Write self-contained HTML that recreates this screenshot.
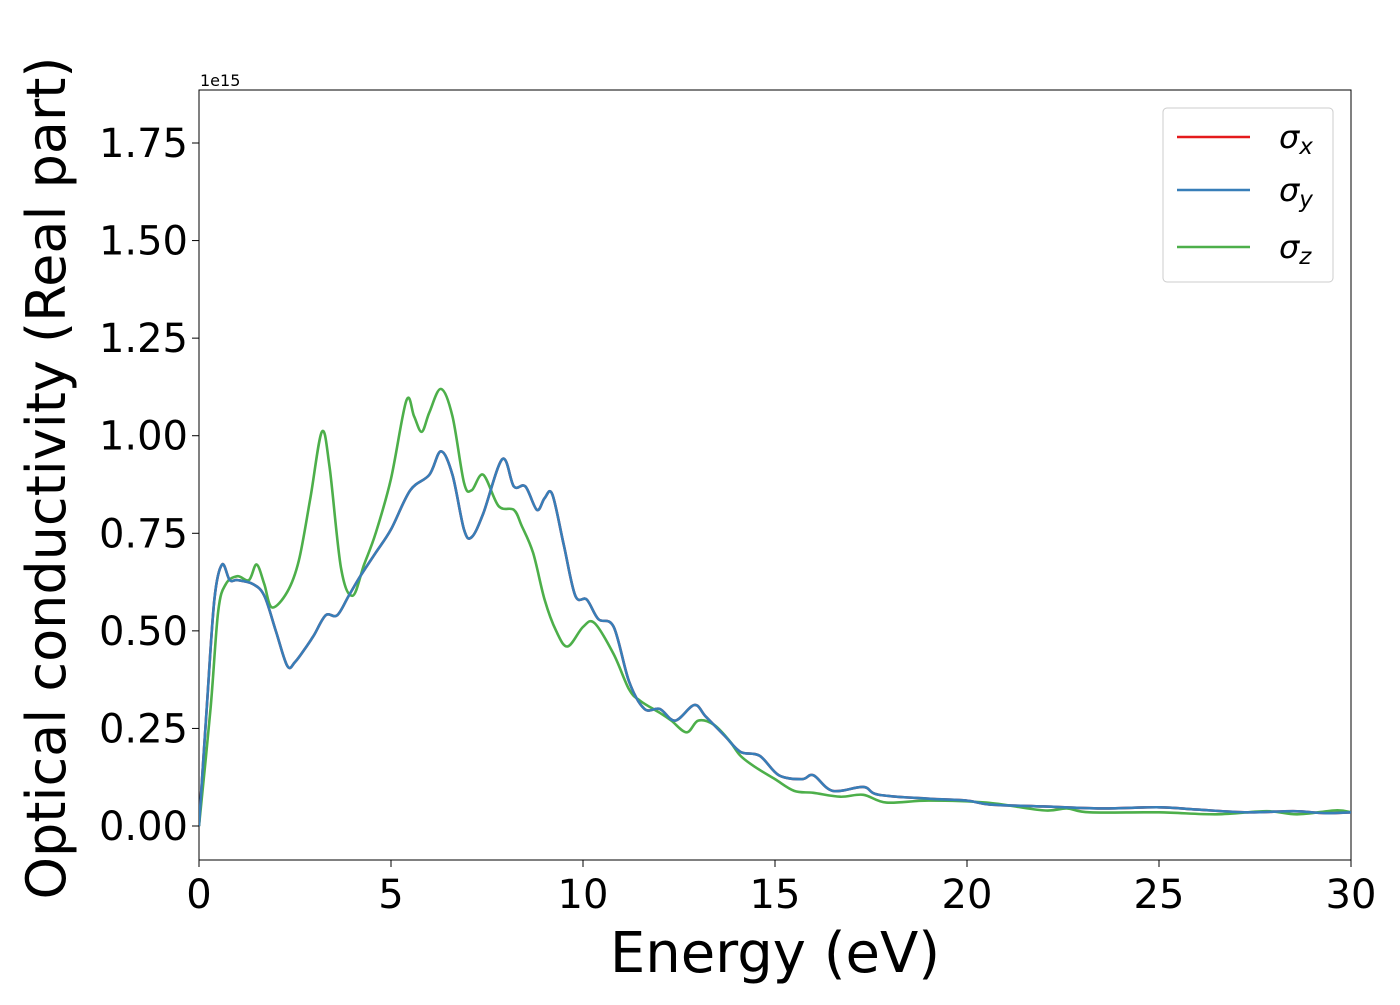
<!DOCTYPE html>
<html><head><meta charset="utf-8"><style>
body{margin:0;background:#fff}
svg text{font-family:"DejaVu Sans","Liberation Sans",sans-serif}
</style></head><body>
<svg width="1400" height="1000">
<g id="axes"></g>
<g id="series"></g>
<g>
<rect x="1163" y="108" width="170" height="174" rx="4" fill="#fff" stroke="#ccc" stroke-width="1"/>
<g><line x1="1177" y1="137" x2="1250" y2="137" stroke="#e41a1c" stroke-width="2.5"/><text x="1279" y="148" font-size="32" font-style="italic">σ<tspan font-size="23" dy="6">x</tspan></text></g>
<g><line x1="1177" y1="190" x2="1250" y2="190" stroke="#377eb8" stroke-width="2.5"/><text x="1279" y="201" font-size="32" font-style="italic">σ<tspan font-size="23" dy="6">y</tspan></text></g>
<g><line x1="1177" y1="247" x2="1250" y2="247" stroke="#4daf4a" stroke-width="2.5"/><text x="1279" y="258" font-size="32" font-style="italic">σ<tspan font-size="23" dy="6">z</tspan></text></g>
</g>
<text x="200" y="86" font-size="16">1e15</text>
<text x="775" y="972" font-size="56" text-anchor="middle">Energy (eV)</text>
<text transform="translate(65,478) rotate(-90)" font-size="54" text-anchor="middle">Optical conductivity (Real part)</text>
</svg>
<script>
const xTicks=[0,5,10,15,20,25,30];
const yTicks=[0,0.25,0.5,0.75,1.0,1.25,1.5,1.75];
const yTickLabels=["0.00","0.25","0.50","0.75","1.00","1.25","1.50","1.75"];
const blueX=[0,0.2,0.4,0.6,0.8,1.0,1.4,1.7,2.0,2.3,2.5,2.8,3.0,3.3,3.6,3.9,4.2,4.6,5.0,5.5,6.0,6.3,6.6,6.9,7.1,7.4,7.9,8.2,8.5,8.8,9.0,9.2,9.5,9.8,10.1,10.4,10.8,11.2,11.6,12.0,12.4,12.9,13.2,13.7,14.1,14.6,15.1,15.7,16.0,16.5,17.3,17.7,19,20,20.6,22,23.5,25,26,27.3,28.5,29.3,30];
const blueY=[0,0.3,0.58,0.67,0.63,0.63,0.62,0.59,0.5,0.41,0.42,0.46,0.49,0.54,0.54,0.59,0.64,0.7,0.76,0.86,0.9,0.96,0.9,0.76,0.74,0.8,0.94,0.87,0.87,0.81,0.84,0.85,0.72,0.59,0.58,0.53,0.51,0.37,0.3,0.3,0.27,0.31,0.28,0.23,0.19,0.18,0.13,0.12,0.13,0.09,0.1,0.08,0.07,0.065,0.055,0.05,0.045,0.048,0.042,0.035,0.038,0.033,0.035];
const greenX=[0,0.3,0.5,0.7,1.0,1.3,1.5,1.7,1.9,2.3,2.6,2.9,3.2,3.4,3.7,4.0,4.3,4.6,5.0,5.4,5.6,5.8,6.0,6.3,6.6,6.9,7.1,7.4,7.8,8.2,8.4,8.7,9.0,9.3,9.6,10.0,10.3,10.8,11.2,11.5,12.0,12.3,12.7,13.0,13.4,13.8,14.1,14.5,15.0,15.5,16.0,16.7,17.3,17.9,19,20.5,22,22.6,23.2,25,26.5,27.8,28.6,29.6,30];
const greenY=[0,0.3,0.55,0.62,0.64,0.63,0.67,0.62,0.56,0.6,0.68,0.84,1.01,0.92,0.66,0.59,0.67,0.75,0.89,1.09,1.05,1.01,1.06,1.12,1.05,0.88,0.86,0.9,0.82,0.81,0.77,0.7,0.58,0.5,0.46,0.51,0.52,0.44,0.35,0.32,0.29,0.27,0.24,0.27,0.26,0.22,0.18,0.15,0.12,0.09,0.085,0.075,0.08,0.06,0.065,0.06,0.04,0.045,0.035,0.035,0.03,0.038,0.03,0.04,0.035];
const X0=199,X1=1351,YT=90,YB=860;
const sx=v=>X0+(v/30)*(X1-X0);
const sy=v=>826-v*(826-143)/1.75;
const NS='http://www.w3.org/2000/svg';
function mk(t,a,p){const e=document.createElementNS(NS,t);for(const k in a)e.setAttribute(k,a[k]);p.appendChild(e);return e;}
const axes=document.getElementById('axes');
const frame=mk('rect',{x:X0,y:YT,width:X1-X0,height:YB-YT,fill:'none',stroke:'#000','stroke-width':1},axes);


xTicks.forEach(t=>{
  const l=mk('line',{x1:sx(t),x2:sx(t),y1:YB,y2:YB+7,stroke:'#000'},axes);
  
  
  const tx=mk('text',{x:sx(t),y:908,'font-size':40,'text-anchor':'middle'},axes);
  tx.textContent=t;
  
  
});
yTicks.forEach((t,i)=>{
  const l=mk('line',{x1:X0-7,x2:X0,y1:sy(t),y2:sy(t),stroke:'#000'},axes);
  
  
  const tx=mk('text',{x:188,y:sy(t)+14,'font-size':40,'text-anchor':'end'},axes);
  tx.textContent=yTickLabels[i];
  
  
});
function pathD(xs,ys){
  const p=xs.map((x,i)=>[sx(x),sy(ys[i])]);
  let d='M'+p[0][0]+','+p[0][1];
  for(let i=0;i<p.length-1;i++){
    const a=p[Math.max(0,i-1)],b=p[i],c=p[i+1],e=p[Math.min(p.length-1,i+2)];
    const c1=[b[0]+(c[0]-a[0])/6,b[1]+(c[1]-a[1])/6],c2=[c[0]-(e[0]-b[0])/6,c[1]-(e[1]-b[1])/6];
    d+=' C'+c1+' '+c2+' '+c;
  }
  return d;
}
const ser=document.getElementById('series');
const defs=mk('defs',{},ser);
const cp=mk('clipPath',{id:'clip'},defs);
mk('rect',{x:X0,y:YT,width:X1-X0,height:YB-YT},cp);
[['sigma-x',blueX,blueY,'#e41a1c'],['sigma-z',greenX,greenY,'#4daf4a'],['sigma-y',blueX,blueY,'#377eb8']].forEach(s=>{
  const p=mk('path',{d:pathD(s[1],s[2]),fill:'none',stroke:s[3],'stroke-width':2.6,'clip-path':'url(#clip)','stroke-linejoin':'round'},ser);
  
  
});
</script>
</body></html>
